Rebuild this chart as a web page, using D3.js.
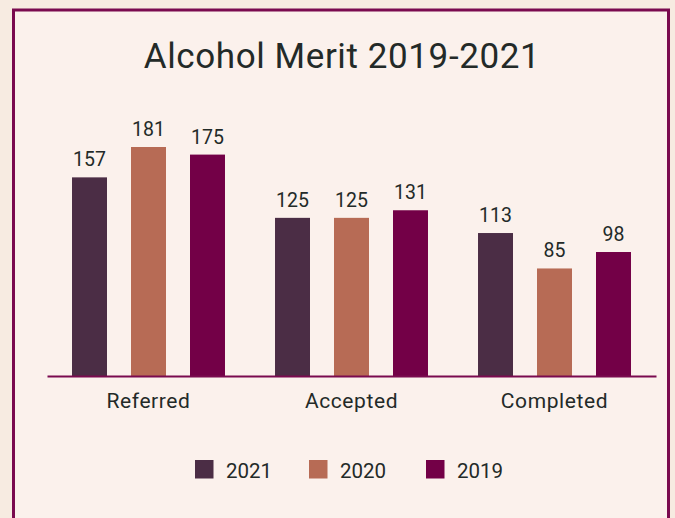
<!DOCTYPE html>
<html><head><meta charset="utf-8">
<script src="https://cdn.jsdelivr.net/npm/d3@7"></script>
<style>html,body{margin:0;padding:0;background:#f7ebe1;}svg{display:block;}</style>
</head><body>
<script>
const categories = ["Referred", "Accepted", "Completed"];
const seriesNames = ["2021", "2020", "2019"];
const values2021 = [157, 125, 113];
const values2020 = [181, 125, 85];
const values2019 = [175, 131, 98];
const colors = ["#4b2d45", "#b76b55", "#730047"];
const seriesValues = [values2021, values2020, values2019];

const W = 675, H = 518;
const svg = d3.select("body").append("svg").attr("width", W).attr("height", H);
svg.append("rect").attr("width", W).attr("height", H).attr("fill", "#f7ebe1");
svg.append("rect").attr("x", 13.5).attr("y", 10).attr("width", 655).attr("height", 520)
  .attr("fill", "#fbf1ec").attr("stroke", "#7a0a4f").attr("stroke-width", 3);

const font = "Roboto, 'Noto Sans', sans-serif";
const textColor = "#232a28";

svg.append("text").attr("x", 342).attr("y", 68).attr("text-anchor", "middle")
  .attr("font-family", font).attr("font-size", 35).attr("letter-spacing", 0.6)
  .attr("fill", textColor)
  .text("Alcohol Merit 2019-2021");

const baseY = 376;
const y = d3.scaleLinear().domain([0, 181]).range([baseY, 147]);
const x0 = d3.scaleBand().domain(categories).range([47, 656]);
const x1 = d3.scaleBand().domain(seriesNames).range([0, x0.bandwidth()])
  .paddingInner(0.407).paddingOuter(0.424);

const data = [];
categories.forEach((c, i) => seriesNames.forEach((s, j) => data.push({c, s, j, v: seriesValues[j][i]})));

const g = svg.append("g");
g.selectAll("rect.bar").data(data).join("rect").attr("class", "bar")
  .attr("x", d => x0(d.c) + x1(d.s)).attr("width", x1.bandwidth())
  .attr("y", d => y(d.v)).attr("height", d => baseY - y(d.v))
  .attr("fill", d => colors[d.j]);

g.selectAll("text.val").data(data).join("text").attr("class", "val")
  .attr("x", d => x0(d.c) + x1(d.s) + x1.bandwidth() / 2)
  .attr("y", d => y(d.v) - 11).attr("text-anchor", "middle")
  .attr("font-family", font).attr("font-size", 19.5).attr("fill", textColor)
  .text(d => d.v);

const axis = svg.append("g").attr("transform", `translate(0,${baseY})`)
  .call(d3.axisBottom(x0).tickSize(0));
axis.select(".domain").attr("stroke", "#7a0a4f").attr("stroke-width", 2);
axis.selectAll(".tick text").attr("dy", null).attr("y", 32)
  .attr("font-family", font).attr("font-size", 21).attr("letter-spacing", 0.6)
  .attr("fill", textColor);

const legend = svg.append("g");
const legX = [195, 309, 426];
seriesNames.forEach((s, j) => {
  const lg = legend.append("g").attr("transform", `translate(${legX[j]},460)`);
  lg.append("rect").attr("width", 18.5).attr("height", 18.5).attr("fill", colors[j]);
  lg.append("text").attr("x", 31).attr("y", 17.7).attr("font-family", font)
    .attr("font-size", 20.5).attr("fill", textColor).text(s);
});
</script>
</body></html>
